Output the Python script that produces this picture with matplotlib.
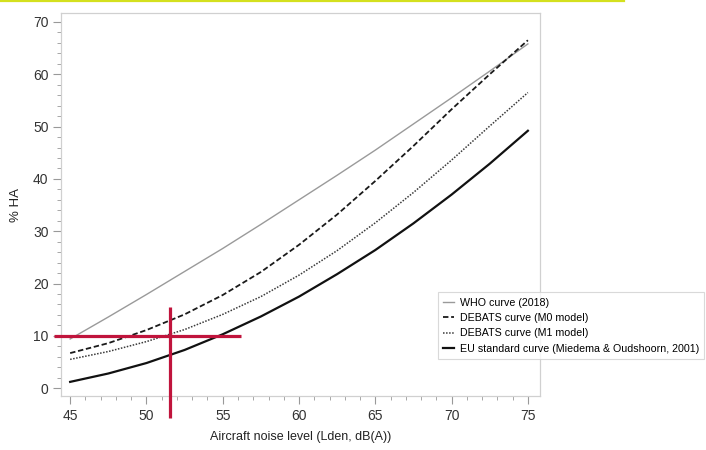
import numpy as np
import matplotlib
matplotlib.use("Agg")
import matplotlib.pyplot as plt
from matplotlib.lines import Line2D

plt.rcParams['font.family'] = ['Liberation Sans', 'DejaVu Sans']

# ============================================================
# Data
# ============================================================
noise_level = [45, 47.5, 50, 52.5, 55, 57.5, 60, 62.5, 65, 67.5, 70, 72.5, 75]

who_2018 = [9.4, 13.6, 17.9, 22.3, 26.7, 31.3, 36.0, 40.7, 45.5, 50.5, 55.5, 60.6, 65.8]
debats_m0 = [6.7, 8.6, 11.1, 14.1, 17.8, 22.2, 27.4, 33.2, 39.6, 46.3, 53.3, 60.0, 66.5]
debats_m1 = [5.5, 7.0, 8.9, 11.2, 14.1, 17.5, 21.6, 26.3, 31.6, 37.4, 43.6, 50.1, 56.5]
eu_standard = [1.2, 2.8, 4.8, 7.3, 10.3, 13.7, 17.5, 21.8, 26.4, 31.5, 37.0, 42.9, 49.2]

labels = [
    'WHO curve (2018)',
    'DEBATS curve (M0 model)',
    'DEBATS curve (M1 model)',
    'EU standard curve (Miedema & Oudshoorn, 2001)',
]

# red reference cross: 10 %HA threshold and matching noise level
threshold_ha = 10
threshold_level = 51.55
hline_span = [43.95, 56.2]
vline_span = [-5.8, 15.5]

x_ticks = [45, 50, 55, 60, 65, 70, 75]
y_ticks = [0, 10, 20, 30, 40, 50, 60, 70]

# ============================================================
# Plot
# ============================================================
fig = plt.figure(figsize=(7.06, 4.5), dpi=100)
ax = fig.add_axes([0.0864, 0.12, 0.6786, 0.851])

ax.plot(noise_level, who_2018, color='#9a9a9a', lw=1.0, label=labels[0])
ax.plot(noise_level, debats_m0, color='#1a1a1a', lw=1.3, ls=(0, (3, 1.5)), label=labels[1])
ax.plot(noise_level, debats_m1, color='#3a3a3a', lw=1.1, ls=(0, (1, 1)), label=labels[2])
ax.plot(noise_level, eu_standard, color='#111111', lw=1.6, label=labels[3])

red = '#c0143c'
ax.plot(hline_span, [threshold_ha, threshold_ha], color=red, lw=2.3,
        clip_on=False, solid_capstyle='butt', zorder=5)
ax.plot([threshold_level, threshold_level], vline_span, color=red, lw=2.3,
        clip_on=False, solid_capstyle='butt', zorder=5)

ax.set_xlim(44.4, 75.8)
ax.set_ylim(-1.5, 71.7)
ax.set_xticks(x_ticks)
ax.set_yticks(y_ticks)
ax.set_xticks(np.arange(45, 76, 1), minor=True)
ax.set_yticks(np.arange(0, 71, 2), minor=True)

ax.tick_params(which='major', length=6, width=0.8, color='#999999',
               labelsize=10, labelcolor='#333333', pad=3)
ax.tick_params(which='minor', length=3, width=0.6, color='#999999')

for sp in ax.spines.values():
    sp.set_color('#d0d0d0')
    sp.set_linewidth(0.9)

ax.set_xlabel('Aircraft noise level (Lden, dB(A))', fontsize=9, color='#222222', labelpad=6)
ax.set_ylabel('% HA', fontsize=9.5, color='#222222', labelpad=8)

leg = fig.legend(loc='upper left', bbox_to_anchor=(0.613, 0.362), fontsize=7.7,
                 frameon=True, fancybox=False, handlelength=1.0, handletextpad=0.5,
                 borderpad=0.5, labelspacing=0.5)
leg.get_frame().set_edgecolor('#d0d0d0')
leg.get_frame().set_linewidth(0.8)

# yellow strip across the top
fig.add_artist(Line2D([0, 0.884], [0.998, 0.998], color='#d4e01e', lw=1.6,
                      transform=fig.transFigure))

plt.savefig('out.png', dpi=100)
plt.close()
